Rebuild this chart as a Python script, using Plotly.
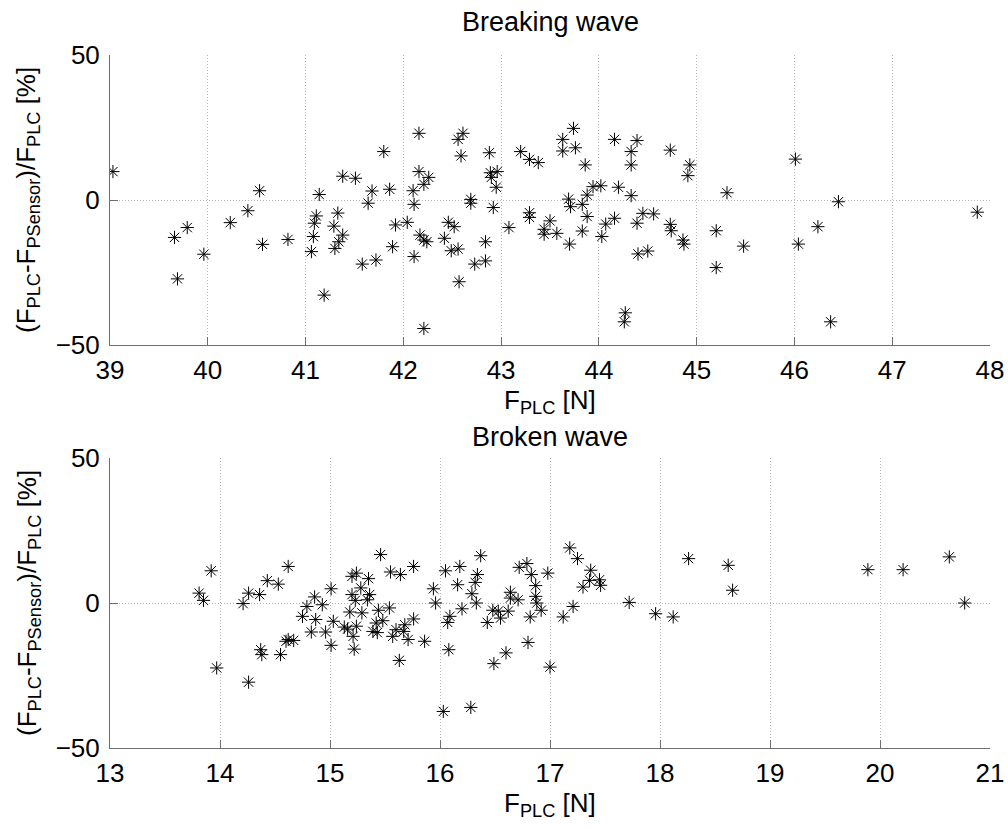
import plotly.graph_objects as go

# Breaking wave: force measured by PLC [N] and relative deviation [%]
breaking_f = [
    39.03, 39.66, 39.79, 39.69, 39.96, 40.23, 40.41, 40.53, 40.56, 40.82,
    41.06, 41.08, 41.09, 41.11, 41.14, 41.19, 41.29, 41.33, 41.30, 41.34,
    41.38, 41.38, 41.51, 41.58, 41.64, 41.68, 41.72, 41.80, 41.86, 41.89,
    41.92,
    42.04, 42.10, 42.11, 42.11, 42.16, 42.16, 42.17, 42.21, 42.26, 42.21,
    42.24, 42.21, 42.42, 42.46, 42.52, 42.49, 42.56, 42.57, 42.56, 42.61,
    42.59, 42.69, 42.69, 42.73, 42.84, 42.84, 42.88, 42.89, 42.90, 42.96,
    42.95, 42.92, 43.08, 43.20, 43.29, 43.38, 43.29, 43.29, 43.44, 43.44,
    43.50, 43.57, 43.63, 43.63, 43.74, 43.76, 43.86, 43.69, 43.71, 43.70,
    43.83, 43.88, 43.94, 44.02, 43.88, 43.83, 44.03, 44.07, 44.16, 44.16,
    44.20, 44.33, 44.39, 44.33, 44.33, 44.39, 44.45, 44.40, 44.50, 44.56,
    44.73, 44.73, 44.74, 44.86, 44.87, 44.93, 44.91, 44.27, 44.26,
    45.31, 45.20, 45.20, 45.48, 46.01, 46.04, 46.24, 46.45, 46.37, 47.87,
]
breaking_dev = [
    9.8, -12.9, -9.5, -27.2, -18.7, -7.8, -3.7, 3.2, -15.3, -13.6,
    -17.8, -12.6, -8.0, -5.5, 1.9, -32.8, -9.0, -4.5, -16.7, -14.4,
    -12.1, 8.2, 7.5, -22.1, -1.1, 3.1, -20.7, 16.7, 3.7, -16.1,
    -8.6,
    -7.7, 3.2, -1.5, -19.5, 23.0, 9.8, -12.1, 5.4, 7.8, -13.8,
    -14.4, -44.3, -13.2, -7.7, -9.2, -17.5, -16.9, -28.2, 20.9, 23.0,
    15.2, 0.2, -1.1, -22.1, -21.0, -14.4, 16.3, 9.4, 7.8, 9.8,
    4.4, -2.6, -9.5, 16.7, 14.0, 12.9, -4.4, -6.0, -10.1, -11.8,
    -7.2, -11.5, 20.9, 16.9, 24.7, 18.0, 12.1, 0.3, -2.3, -15.2,
    -1.5, 1.7, 4.6, 4.9, -5.7, -10.7, -12.6, -8.3, -6.3, 20.9,
    4.4, 16.7, 20.5, 12.1, 1.5, -8.0, -4.6, -18.6, -17.6, -4.8,
    17.2, -8.4, -10.6, -13.8, -15.2, 12.1, 8.4, -38.9, -42.0,
    2.5, -10.6, -23.3, -15.9, 14.1, -15.2, -9.2, -0.6, -42.0, -4.2,
]

# Broken wave: force measured by PLC [N] and relative deviation [%]
broken_f = [
    13.81, 13.85, 13.92, 13.97, 14.21, 14.26, 14.26, 14.36, 14.37, 14.38,
    14.43, 14.53, 14.55, 14.60, 14.62, 14.67, 14.62, 14.75, 14.79, 14.86,
    14.87, 14.83, 14.93, 14.96, 15.01, 15.03, 15.01, 15.13, 15.16, 15.18,
    15.20, 15.24, 15.20, 15.23, 15.24, 15.21, 15.22, 15.28, 15.29, 15.35,
    15.36, 15.34, 15.46, 15.55, 15.44, 15.54, 15.42, 15.48, 15.39, 15.43,
    15.57, 15.60, 15.63,
    15.64, 15.68, 15.67, 15.71, 15.76, 15.76, 15.86, 15.94, 15.96, 16.05,
    16.18, 16.16, 16.37, 16.34, 16.32, 16.29, 16.33, 16.20, 16.09, 16.07,
    16.08, 16.03, 16.28, 16.48, 16.53, 16.62, 16.43, 16.55, 16.64, 16.64,
    16.71, 16.49, 16.60, 16.72, 16.79, 16.83, 16.87, 16.87, 16.88, 16.92,
    16.82, 16.80, 16.98, 17.00, 17.12, 17.21, 17.18, 17.25, 17.30, 17.37,
    17.36, 17.45, 17.46, 17.72, 17.96, 18.12, 18.26,
    18.62, 18.66, 19.89, 20.21, 20.63, 20.77,
]
broken_dev = [
    3.4, 0.9, 11.1, -22.4, -0.2, 3.4, -27.3, 2.9, -16.1, -17.8,
    7.7, 6.5, -17.8, -13.2, -12.6, -12.9, 12.6, -4.6, -1.2, 2.1,
    -5.7, -10.0, -0.6, -10.0, 4.9, -6.3, -14.6, -8.3, -9.0, -3.1,
    9.2, 10.3, 2.9, 0.9, -8.0, -11.5, -15.9, 5.2, -3.4, 8.4,
    2.9, 1.1, 16.7, 10.7, -2.5, -1.7, -6.9, -6.1, -9.8, -10.2,
    -11.5, -9.2, -19.8,
    9.8, -7.5, -9.8, -12.6, 12.6, -5.5, -13.2, 4.9, 0.0, 11.1,
    12.6, 6.3, 16.3, 9.8, 7.1, 3.2, 0.0, -2.0, -4.6, -6.7,
    -16.1, -37.4, -36.0, -2.5, -2.8, -2.8, -6.7, -5.2, 3.7, 1.7,
    1.1, -20.9, -17.2, 12.3, 13.6, 9.8, 6.0, 2.3, 0.0, -2.5,
    -4.8, -13.6, 10.3, -22.1, -4.8, -1.2, 19.0, 15.3, 5.5, 11.3,
    7.8, 8.0, 6.1, 0.2, -3.7, -4.8, 15.3,
    13.0, 4.4, 11.5, 11.5, 15.9, 0.0,
]

panel_titles = ["Breaking wave", "Broken wave"]
x_label = "F<sub>PLC</sub> [N]"
y_label = "(F<sub>PLC</sub>-F<sub>PSensor</sub>)/F<sub>PLC</sub> [%]"
x_ticks_top = [39, 40, 41, 42, 43, 44, 45, 46, 47, 48]
x_ticks_bottom = [13, 14, 15, 16, 17, 18, 19, 20, 21]
y_ticks = [-50, 0, 50]

W, H = 1008, 829
FONT = "Liberation Sans, Arial, sans-serif"


def px_x(p):
    return p / W


def px_y(p):
    return 1 - p / H


marker = dict(symbol="asterisk-open", size=11, color="black",
              line=dict(color="black", width=1))

fig = go.Figure()
fig.add_trace(go.Scatter(x=breaking_f, y=breaking_dev, mode="markers",
                         marker=marker, xaxis="x", yaxis="y",
                         showlegend=False))
fig.add_trace(go.Scatter(x=broken_f, y=broken_dev, mode="markers",
                         marker=marker, xaxis="x2", yaxis="y2",
                         showlegend=False))

axis_common = dict(
    showline=True, linecolor="#6e6e6e", linewidth=1, mirror=False,
    ticks="inside", ticklen=8, tickcolor="#6e6e6e", tickwidth=1,
    showgrid=True, gridcolor="#b4b4b4", griddash="1px,2px", gridwidth=1,
    zeroline=False, automargin=False,
    tickfont=dict(family=FONT, size=26, color="black"),
)

x_dom = [px_x(110), px_x(990)]
top_dom = [px_y(345), px_y(55)]
bot_dom = [px_y(748), px_y(458)]

fig.update_layout(
    width=W, height=H,
    margin=dict(l=0, r=0, t=0, b=0, autoexpand=False),
    paper_bgcolor="white", plot_bgcolor="white",
    font=dict(family=FONT, color="black"),
    xaxis=dict(domain=x_dom, anchor="y", range=[39, 48],
               tickvals=x_ticks_top, ticklabelstandoff=2, **axis_common),
    yaxis=dict(domain=top_dom, anchor="x", range=[-50, 50],
               tickvals=y_ticks, ticklabelstandoff=4, **axis_common),
    xaxis2=dict(domain=x_dom, anchor="y2", range=[13, 21],
                tickvals=x_ticks_bottom, ticklabelstandoff=2, **axis_common),
    yaxis2=dict(domain=bot_dom, anchor="x2", range=[-50, 50],
                tickvals=y_ticks, ticklabelstandoff=4, **axis_common),
)

annotations = []
# panel titles
for title, ycen in zip(panel_titles, [22, 437]):
    annotations.append(dict(text=title, x=px_x(550), y=px_y(ycen),
                            xref="paper", yref="paper", showarrow=False,
                            xanchor="center", yanchor="middle",
                            font=dict(family=FONT, size=27, color="black")))
# x axis labels
for ytop in [383, 786]:
    annotations.append(dict(text=x_label, x=px_x(550), y=px_y(ytop),
                            xref="paper", yref="paper", showarrow=False,
                            xanchor="center", yanchor="top",
                            font=dict(family=FONT, size=26, color="black")))
# y axis labels
for ycen in [200, 603]:
    annotations.append(dict(text=y_label, x=px_x(28), y=px_y(ycen),
                            xref="paper", yref="paper", showarrow=False,
                            xanchor="center", yanchor="middle", textangle=-90,
                            font=dict(family=FONT, size=26, color="black")))
fig.update_layout(annotations=annotations)

fig.write_html("out.html")
